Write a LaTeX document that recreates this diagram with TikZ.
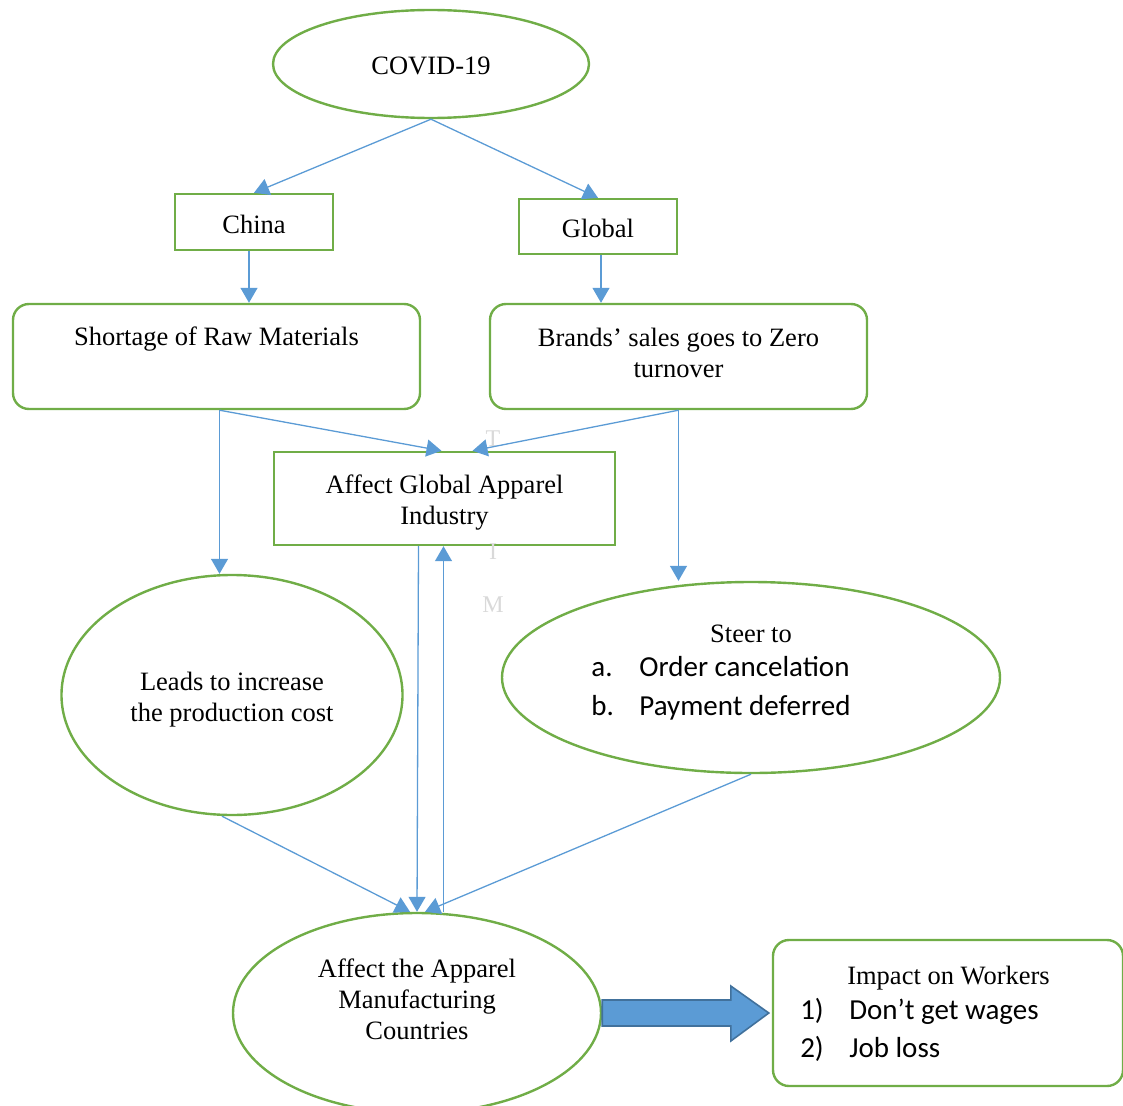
\documentclass[tikz,border=0pt]{standalone}
\usepackage{fontspec}
\setmainfont{Liberation Serif}
\newfontfamily\calibri{Carlito}
\usetikzlibrary{arrows.meta,shapes.geometric,positioning,calc}

\definecolor{leafgreen}{HTML}{70AD47}
\definecolor{skyblue}{HTML}{5B9BD5}
\definecolor{navyedge}{HTML}{41719C}
\definecolor{faintgray}{HTML}{D9D9D9}

\newcommand{\serifsz}{\rmfamily\fontsize{26.5}{31}\selectfont}
\newcommand{\sanssz}{\calibri\fontsize{29}{39}\selectfont}

\tikzset{
  oval/.style={ellipse, draw=leafgreen, line width=2.4pt, inner sep=0pt, align=center, font=\serifsz},
  sqbox/.style={rectangle, draw=leafgreen, line width=2.4pt, inner sep=0pt, align=center, font=\serifsz},
  rndbox/.style={rectangle, rounded corners=16pt, draw=leafgreen, line width=2.4pt, inner sep=0pt},
  flow/.style={draw=skyblue, line width=1.3pt, -{Triangle[length=15pt,width=17pt]}},
  bigarrow/.style={fill=skyblue, draw=navyedge, line width=1.6pt, line join=miter},
  wmark/.style={text=faintgray, font=\fontsize{24}{26}\selectfont}
}

\begin{document}
\begin{tikzpicture}[x=1pt,y=-1pt]
  \useasboundingbox (0,0) rectangle (1123,1105);

  \node[oval, minimum width=316pt, minimum height=108pt,
        label={[font=\serifsz, yshift=-1.5pt]center:COVID-19}] (covid) at (431,64) {};
  \node[sqbox, minimum width=158pt, minimum height=56pt,
        label={[font=\serifsz, yshift=-2pt]center:China}] (china) at (254,222) {};
  \node[sqbox, minimum width=158pt, minimum height=55pt,
        label={[font=\serifsz, yshift=-2pt]center:Global}] (global) at (598,226.5) {};

  \node[rndbox, minimum width=407pt, minimum height=105pt,
        label={[font=\serifsz, yshift=17.5pt]center:Shortage of Raw Materials}] (shortage) at (216.5,356.5) {};
  \node[rndbox, minimum width=377pt, minimum height=105pt,
        label={[font=\serifsz, align=center, yshift=4pt]center:Brands’ sales goes to Zero\\turnover}] (brands) at (678.5,356.5) {};

  \node[sqbox, minimum width=341pt, minimum height=93pt,
        label={[font=\serifsz, align=center, yshift=-4pt]center:Affect Global Apparel\\Industry}] (affect) at (444.5,498.5) {};

  \node[oval, minimum width=341pt, minimum height=240pt,
        label={[font=\serifsz, align=center, yshift=-5pt]center:Leads to increase\\the production cost}] (leads) at (232,695) {};
  \node[oval, minimum width=498pt, minimum height=191pt,
        label={[font=\sanssz, xshift=-30pt, yshift=6pt]center:{%
          \begin{tabular}{@{}p{48pt}@{}l@{}}
            \multicolumn{2}{c}{\hspace{60pt}\serifsz Steer to}\\[-5pt]
            a. & Order cancelation\\
            b. & Payment deferred
          \end{tabular}}}] (steer) at (751,677.5) {};

  \node[oval, minimum width=368pt, minimum height=200pt,
        label={[font=\serifsz, align=center, yshift=14pt]center:Affect the Apparel\\Manufacturing\\Countries}] (manuf) at (417,1013) {};

  \node[rndbox, minimum width=350pt, minimum height=146pt,
        label={[font=\sanssz, xshift=-20pt, yshift=0pt]center:{%
          \begin{tabular}{@{}p{49pt}@{}l@{}}
            \multicolumn{2}{c}{\hspace{41pt}\serifsz Impact on Workers}\\[-4pt]
            1) & Don’t get wages\\[-1pt]
            2) & Job loss
          \end{tabular}}}] (impact) at (948,1013) {};

  % faint letters behind the middle
  \node[wmark] (wmT) at (493,439) {T};
  \node[wmark] (wmI) at (493,552) {I};
  \node[wmark] (wmM) at (493,605) {M};

  \draw[flow] (covid.south) -- (china.north);
  \draw[flow] (covid.south) -- (global.north);
  \draw[flow] ([xshift=-5pt]china.south) -- ([xshift=-5pt]china.south |- shortage.north);
  \draw[flow] ([xshift=3pt]global.south) -- ([xshift=3pt]global.south |- brands.north);

  \draw[flow] ([xshift=3pt]shortage.south) -- ([xshift=-3pt]affect.north);
  \draw[flow] (brands.south) -- ([xshift=28pt]affect.north);
  \draw[flow] ([xshift=3pt]shortage.south) -- ([xshift=3pt]shortage.south |- leads.north);
  \draw[flow] (brands.south) -- (brands.south |- steer.north);

  \draw[flow] ([xshift=-26pt]affect.south) -- (manuf.north);
  \draw[flow] ([xshift=-1pt]affect.south |- manuf.north) -- ([xshift=-1pt]affect.south);
  \draw[flow] ([xshift=-10pt]leads.south) -- ([xshift=-7pt]manuf.north);
  \draw[flow] (steer.south) -- ([xshift=8pt]manuf.north);

  % block arrow to the workers box
  \coordinate (tipB) at ([xshift=-3pt]impact.west);
  \draw[bigarrow] ([yshift=13pt]manuf.east) -- ([xshift=-38pt,yshift=13pt]tipB |- manuf.east)
    -- ([xshift=-38pt,yshift=27pt]tipB |- manuf.east) -- (tipB |- manuf.east)
    -- ([xshift=-38pt,yshift=-28pt]tipB |- manuf.east) -- ([xshift=-38pt,yshift=-13pt]tipB |- manuf.east)
    -- ([yshift=-13pt]manuf.east) -- cycle;
\end{tikzpicture}
\end{document}
